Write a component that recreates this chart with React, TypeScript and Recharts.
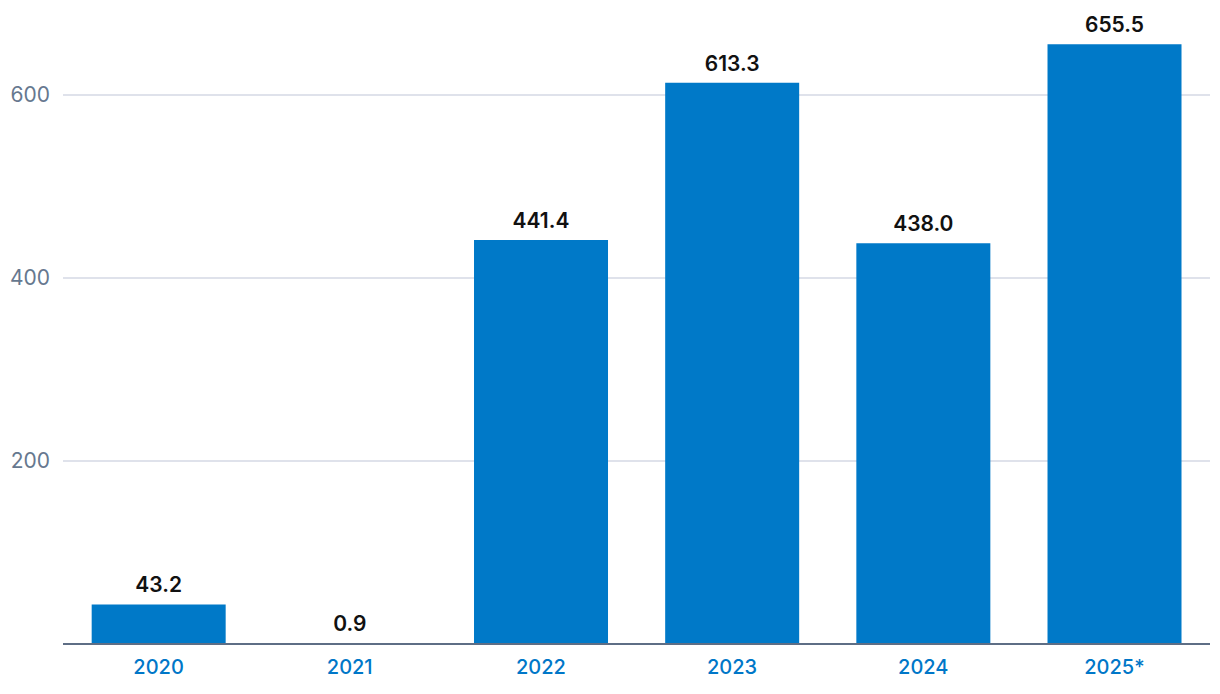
import React from "react";
import { BarChart, Bar, XAxis, YAxis, CartesianGrid, LabelList } from "recharts";

const categories = ["2020", "2021", "2022", "2023", "2024", "2025*"];
const values = [43.2, 0.9, 441.4, 613.3, 438.0, 655.5];
const yTicks = [200, 400, 600];
const yMax = 700;

const data = categories.map((c, i) => ({ year: c, value: values[i] }));

const FONT = "Inter, 'Open Sans', sans-serif";

const gridGen = (props: any) => {
  const { yAxis, offset } = props;
  const sc = yAxis && yAxis.scale;
  if (typeof sc === "function") return yTicks.map((t) => sc(t));
  if (sc && typeof sc.map === "function") return yTicks.map((t) => sc.map(t));
  return yTicks.map((t) => offset.top + offset.height * (1 - t / yMax));
};

export default function App() {
  return (
    <div style={{ position: "absolute", left: 0, top: 0, width: 1220, height: 694, background: "#fff" }}>
      <BarChart
        width={1220}
        height={694}
        data={data}
        margin={{ top: 3.5, right: 10, bottom: 0, left: 0 }}
        barCategoryGap="15%"
      >
        <CartesianGrid
          vertical={false}
          stroke="#d4d9e4"
          strokeWidth={1.5}
          horizontalCoordinatesGenerator={gridGen}
        />
        <XAxis
          dataKey="year"
          height={50}
          tickLine={false}
          axisLine={{ stroke: "#5e6e85", strokeWidth: 2 }}
          tick={{ fill: "#0077c8", fontSize: 20, fontWeight: 500, fontFamily: FONT }}
          tickMargin={10}
        />
        <YAxis
          width={63}
          domain={[0, yMax]}
          ticks={yTicks}
          axisLine={false}
          tickLine={false}
          tick={{ fill: "#66788f", fontSize: 21, fontWeight: 400, fontFamily: FONT }}
          tickMargin={7}
        />
        <Bar dataKey="value" fill="#0079c8" isAnimationActive={false}>
          <LabelList
            dataKey="value"
            position="top"
            offset={12}
            formatter={(v: number) => v.toFixed(1)}
            style={{ fill: "#111", fontSize: 21, fontWeight: 600, fontFamily: FONT }}
          />
        </Bar>
      </BarChart>
    </div>
  );
}
